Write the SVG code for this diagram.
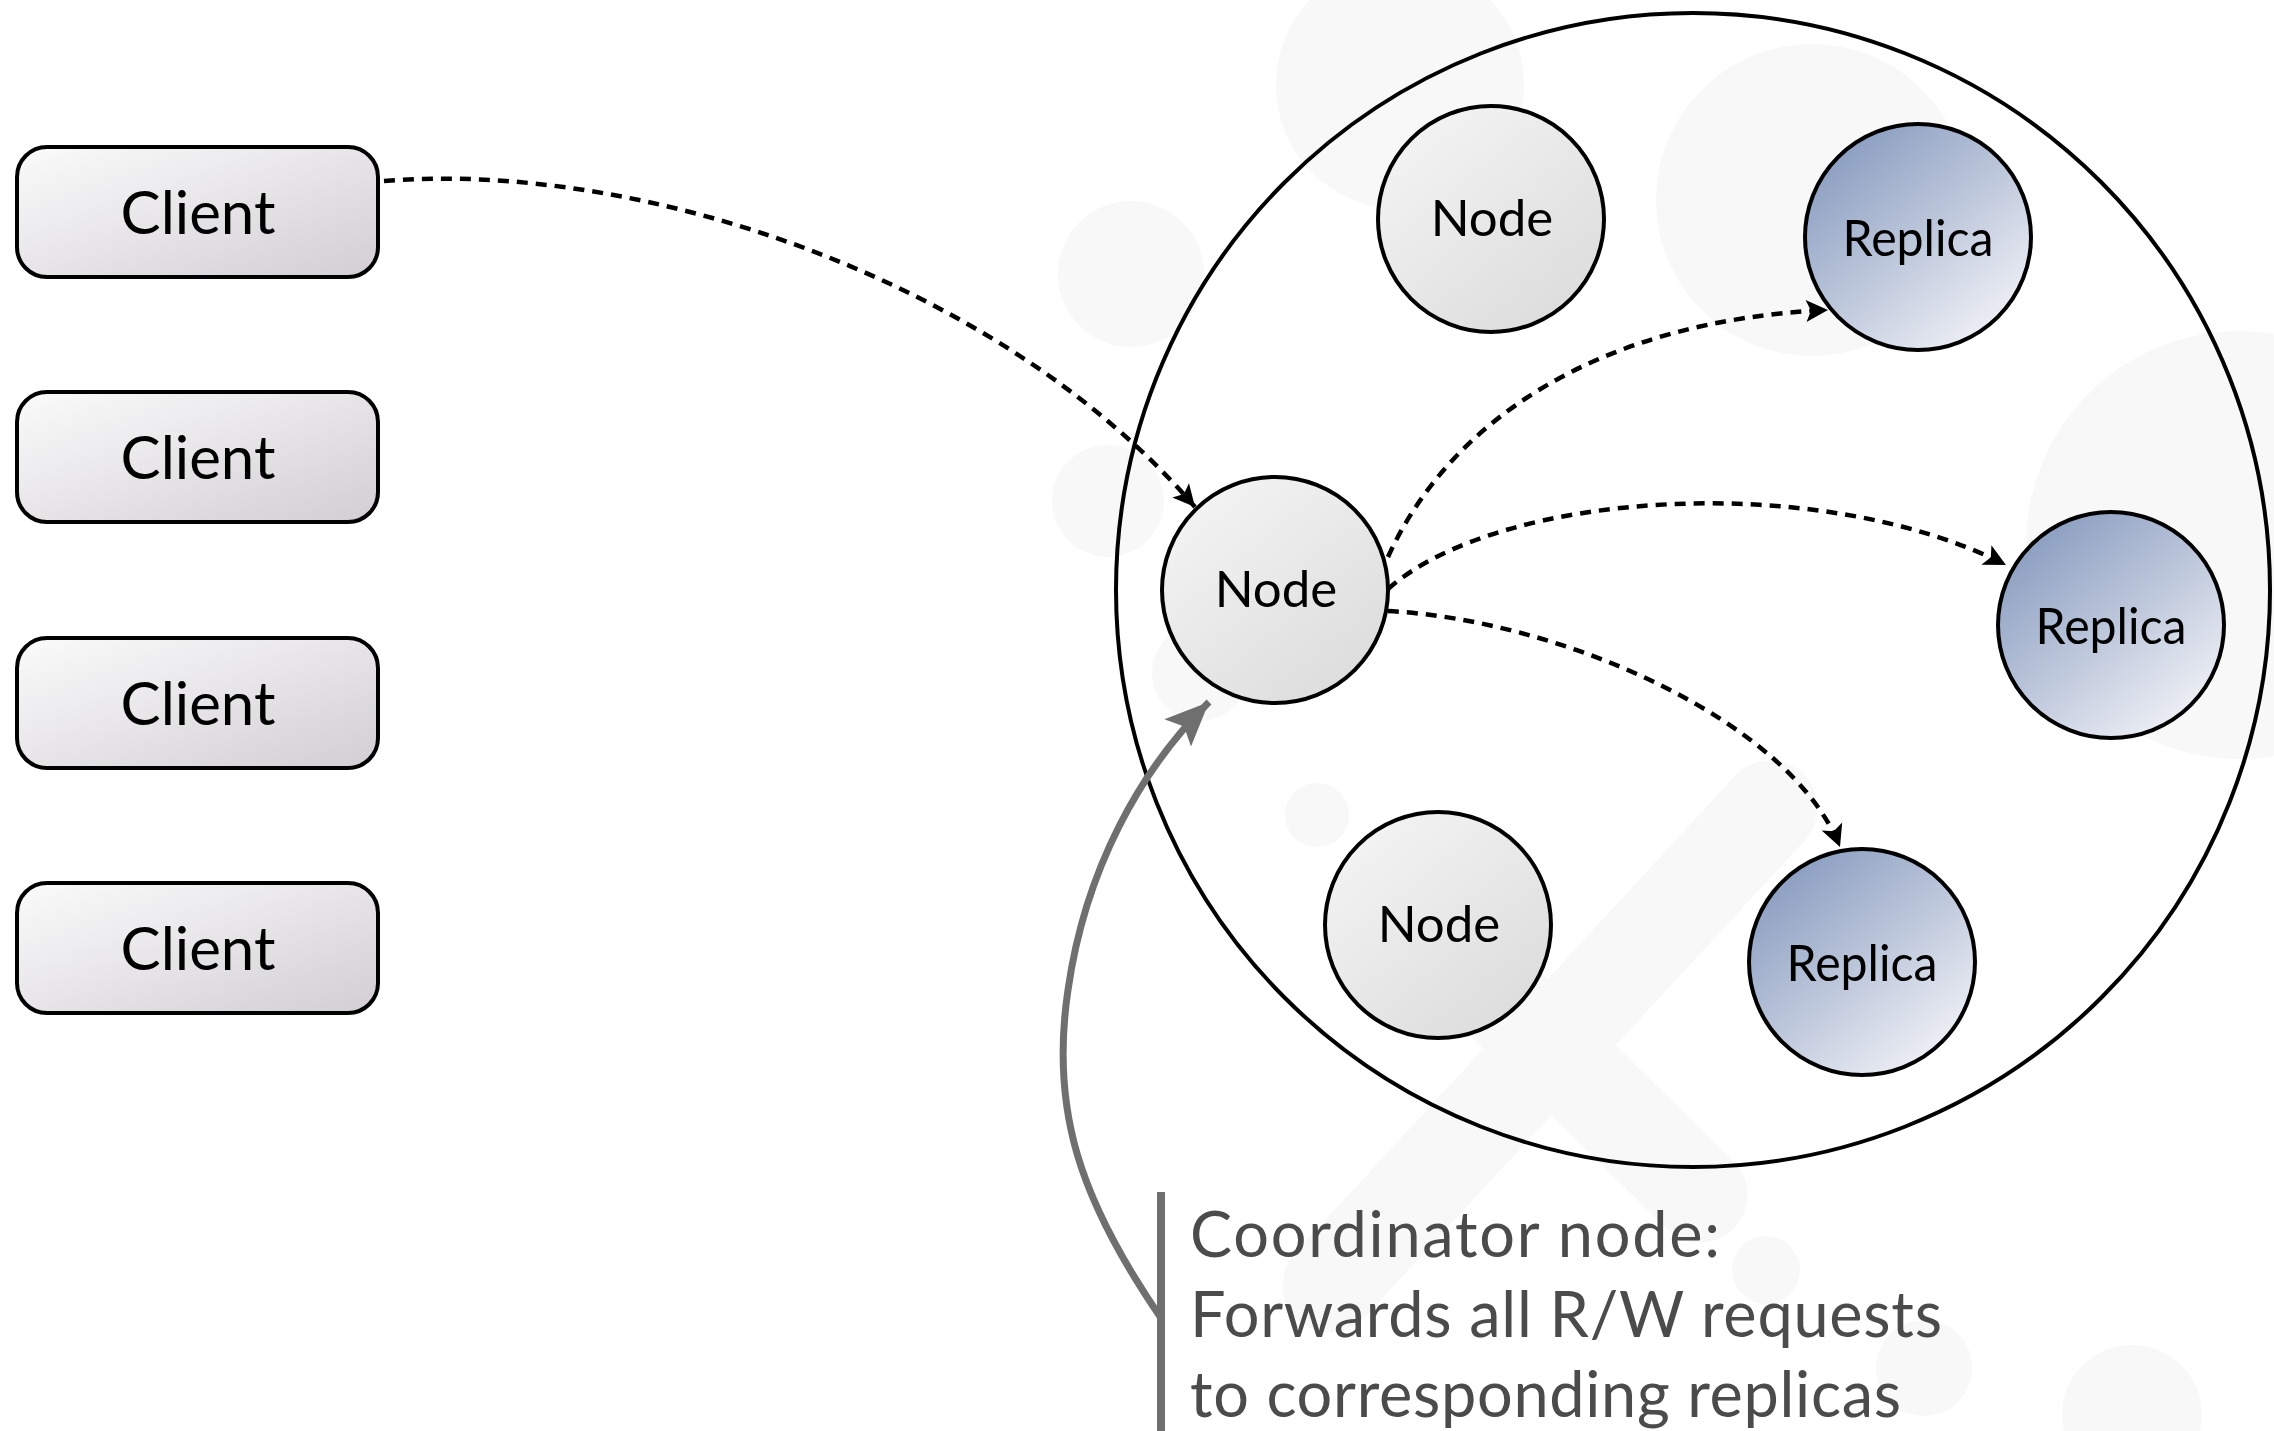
<svg xmlns="http://www.w3.org/2000/svg" width="2274" height="1431" viewBox="0 0 2274 1431">
  <defs>
    <linearGradient id="gClient" x1="0" y1="0" x2="1" y2="1">
      <stop offset="0" stop-color="#fbfbfb"/>
      <stop offset="1" stop-color="#d2ced4"/>
    </linearGradient>
    <linearGradient id="gNode" x1="0.15" y1="0.1" x2="0.85" y2="0.95">
      <stop offset="0" stop-color="#f3f3f3"/>
      <stop offset="1" stop-color="#dcdcdc"/>
    </linearGradient>
    <linearGradient id="gReplica" x1="0.1" y1="0.05" x2="0.85" y2="0.95">
      <stop offset="0" stop-color="#8498bd"/>
      <stop offset="1" stop-color="#f2f3f7"/>
    </linearGradient>
    <marker id="arrowBlack" markerUnits="userSpaceOnUse" markerWidth="26" markerHeight="26" viewBox="-1 -13 26 26" refX="22" refY="0" orient="auto">
      <path d="M0,-11 L22,0 L0,11 L5,0 Z" fill="#000"/>
    </marker>
    <marker id="arrowGray" markerUnits="userSpaceOnUse" markerWidth="50" markerHeight="44" viewBox="-1 -22 50 44" refX="44" refY="0" orient="auto">
      <path d="M0,-19 L44,0 L0,19 L9,0 Z" fill="#6f6f6f"/>
    </marker>
    <style>
      .client rect { fill: url(#gClient); stroke: #000; stroke-width: 4; }
      .node circle { fill: url(#gNode); stroke: #000; stroke-width: 4; }
      .replica circle { fill: url(#gReplica); stroke: #000; stroke-width: 4; }
      .label { font-family: Lato, "Open Sans", "DejaVu Sans", sans-serif; fill: #000; text-anchor: middle; }
      .clientLabel { font-size: 60px; }
      .nodeLabel { font-size: 51px; }
      .flow { fill: none; stroke: #000; stroke-width: 4.5; stroke-dasharray: 11 8; marker-end: url(#arrowBlack); }
      .note { font-family: Lato, "Open Sans", "DejaVu Sans", sans-serif; font-size: 63px; fill: #4b4b4b; }
      .wm { fill: #f8f8f8; }
    </style>
  </defs>

  <rect width="2274" height="1431" fill="#fff"/>

  <!-- faint background watermark -->
  <g id="watermark">
    <circle class="wm" cx="1400" cy="85" r="124"/>
    <circle class="wm" cx="1812" cy="200" r="156"/>
    <circle class="wm" cx="1131" cy="274" r="73"/>
    <circle class="wm" cx="1108" cy="501" r="56"/>
    <circle class="wm" cx="1200" cy="673" r="48"/>
    <circle class="wm" cx="2240" cy="545" r="214"/>
    <circle class="wm" cx="1317" cy="815" r="32"/>
    <circle class="wm" cx="1766" cy="1270" r="34"/>
    <circle class="wm" cx="1924" cy="1368" r="48"/>
    <circle class="wm" cx="2132" cy="1415" r="70"/>
    <path d="M1770,808 L1330,1285" stroke="#f8f8f8" stroke-width="95" stroke-linecap="round" fill="none"/>
    <path d="M1385,885 L1700,1195" stroke="#f8f8f8" stroke-width="95" stroke-linecap="round" fill="none"/>
  </g>

  <!-- cluster ring -->
  <circle id="cluster" cx="1693" cy="590" r="577" fill="none" stroke="#000" stroke-width="4"/>

  <!-- clients -->
  <g id="client1" class="client">
    <rect x="17" y="147" width="361" height="130" rx="30"/>
    <text class="label clientLabel" x="198" y="234">Client</text>
  </g>
  <g id="client2" class="client">
    <rect x="17" y="392" width="361" height="130" rx="30"/>
    <text class="label clientLabel" x="198" y="479">Client</text>
  </g>
  <g id="client3" class="client">
    <rect x="17" y="638" width="361" height="130" rx="30"/>
    <text class="label clientLabel" x="198" y="725">Client</text>
  </g>
  <g id="client4" class="client">
    <rect x="17" y="883" width="361" height="130" rx="30"/>
    <text class="label clientLabel" x="198" y="970">Client</text>
  </g>

  <!-- nodes -->
  <g id="node-top" class="node">
    <circle cx="1491" cy="219" r="113"/>
    <text class="label nodeLabel" x="1492" y="236">Node</text>
  </g>
  <g id="node-coordinator" class="node">
    <circle cx="1275" cy="590" r="113"/>
    <text class="label nodeLabel" x="1276" y="607">Node</text>
  </g>
  <g id="node-bottom" class="node">
    <circle cx="1438" cy="925" r="113"/>
    <text class="label nodeLabel" x="1439" y="942">Node</text>
  </g>

  <!-- replicas -->
  <g id="replica-top" class="replica">
    <circle cx="1918" cy="237" r="113"/>
    <text class="label nodeLabel" x="1918" y="256" textLength="151" lengthAdjust="spacingAndGlyphs">Replica</text>
  </g>
  <g id="replica-mid" class="replica">
    <circle cx="2111" cy="625" r="113"/>
    <text class="label nodeLabel" x="2111" y="644" textLength="151" lengthAdjust="spacingAndGlyphs">Replica</text>
  </g>
  <g id="replica-bottom" class="replica">
    <circle cx="1862" cy="962" r="113"/>
    <text class="label nodeLabel" x="1862" y="981" textLength="151" lengthAdjust="spacingAndGlyphs">Replica</text>
  </g>

  <!-- connectors -->
  <g id="connectors">
    <path class="flow" d="M384,181 C640,160 1000,280 1195,507"/>
    <path class="flow" d="M1388,557 C1450,420 1600,320 1828,310"/>
    <path class="flow" d="M1388,589 C1500,490 1820,470 2006,565"/>
    <path class="flow" d="M1388,611 C1560,620 1790,720 1840,847"/>
    <path d="M1161,1318 C1080,1200 1050,1110 1068,990 C1085,870 1140,770 1209,702" fill="none" stroke="#6f6f6f" stroke-width="7" marker-end="url(#arrowGray)"/>
  </g>

  <!-- annotation -->
  <g id="note">
    <line x1="1161" y1="1192" x2="1161" y2="1431" stroke="#6f6f6f" stroke-width="8"/>
    <text class="note" x="1190" y="1257" textLength="530" lengthAdjust="spacing">Coordinator node:</text>
    <text class="note" x="1190" y="1337" textLength="752" lengthAdjust="spacing">Forwards all R/W requests</text>
    <text class="note" x="1190" y="1417" textLength="711" lengthAdjust="spacing">to corresponding replicas</text>
  </g>
</svg>
